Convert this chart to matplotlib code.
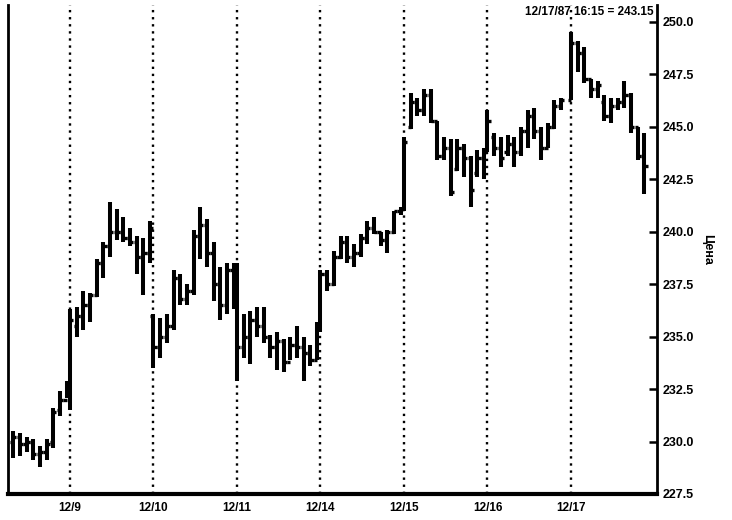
import matplotlib
matplotlib.use("Agg")
import matplotlib.pyplot as plt
import numpy as np

plt.rcParams['font.family'] = ['Liberation Sans', 'DejaVu Sans']
plt.rcParams['font.weight'] = 'bold'

# trading days (12/8 is only partly visible on the left)
day_labels = ["12/8", "12/9", "12/10", "12/11", "12/14", "12/15", "12/16", "12/17"]
bars_per_day = [9, 13, 13, 13, 13, 13, 12, 12]
first_slot = 4          # 12/8 starts part way through the session
slot_step = 1 / 12.5    # bar spacing as a fraction of one day

opens = [
    230.0, 230.2, 229.9, 230.0, 229.4, 229.5, 230.0, 231.5, 232.0,
    232.3, 235.5, 236.0, 236.5, 237.0, 238.5, 239.3, 240.0, 240.0, 239.7, 239.5, 238.8, 239.0,
    236.0, 234.5, 235.0, 235.5, 237.8, 236.8, 237.2, 239.8, 240.3, 239.0, 237.5, 236.5, 238.2,
    236.8, 234.5, 235.0, 235.8, 235.5, 235.0, 234.5, 234.8, 233.8, 234.6, 234.5, 234.2, 233.9,
    235.5, 238.0, 237.5, 238.8, 239.5, 238.8, 239.0, 239.7, 240.2, 240.0, 239.6, 240.0, 241.0,
    241.1, 245.0, 246.2, 245.8, 246.5, 245.3, 243.6, 244.0, 243.0, 244.0, 243.5, 242.8, 243.5,
    243.8, 244.5, 244.0, 243.8, 244.2, 243.8, 244.8, 245.5, 244.8, 244.0, 245.0, 246.0,
    246.3, 249.0, 248.5, 247.3, 246.8, 246.2, 245.5, 246.0, 246.2, 246.5, 245.0, 243.6,
]
highs = [
    230.5, 230.4, 230.2, 230.1, 229.8, 230.1, 231.6, 232.4, 232.9,
    236.3, 236.4, 237.2, 237.1, 238.7, 239.5, 241.4, 241.1, 240.7, 240.2, 239.8, 239.7, 240.5,
    236.1, 235.9, 236.1, 238.2, 238.0, 237.5, 240.1, 241.2, 240.6, 239.5, 238.3, 238.5, 238.5,
    238.5, 236.1, 236.2, 236.4, 236.4, 235.1, 235.2, 234.9, 235.0, 235.5, 235.0, 234.6, 235.7,
    238.2, 238.2, 239.1, 239.8, 239.8, 239.4, 239.9, 240.5, 240.7, 240.0, 240.1, 241.0, 241.2,
    244.5, 246.6, 246.4, 246.8, 246.8, 245.3, 244.5, 244.4, 244.4, 244.2, 243.6, 243.9, 244.0,
    245.8, 244.7, 244.5, 244.6, 244.5, 245.0, 245.8, 245.9, 245.0, 245.2, 246.3, 246.4,
    249.5, 249.1, 248.8, 247.3, 247.2, 246.5, 246.4, 246.4, 247.2, 246.6, 245.0, 244.7,
]
lows = [
    229.2, 229.3, 229.5, 229.1, 228.8, 229.1, 229.7, 231.2, 232.1,
    231.5, 235.0, 235.3, 235.7, 236.9, 237.8, 238.8, 239.6, 239.5, 239.3, 238.0, 237.0, 238.5,
    233.5, 234.0, 234.7, 235.3, 236.5, 236.5, 237.0, 238.7, 238.3, 236.7, 235.8, 236.1, 236.3,
    232.9, 234.0, 233.7, 235.0, 234.7, 234.0, 233.4, 233.3, 233.9, 234.0, 232.9, 233.6, 233.9,
    235.2, 237.2, 237.4, 238.7, 238.5, 238.3, 238.8, 239.4, 239.9, 239.3, 239.0, 239.9, 240.8,
    241.0, 244.9, 245.5, 245.5, 245.2, 243.4, 243.4, 241.7, 242.9, 242.6, 241.2, 242.6, 242.5,
    243.8, 243.6, 243.1, 243.6, 243.1, 243.6, 244.0, 244.4, 243.4, 244.0, 244.9, 245.8,
    246.3, 247.6, 247.1, 246.4, 246.4, 245.3, 245.2, 245.8, 245.9, 244.7, 243.4, 241.8,
]
closes = [
    230.2, 229.9, 230.0, 229.4, 229.5, 229.9, 231.4, 232.0, 232.3,
    235.8, 236.0, 236.5, 237.0, 238.5, 239.3, 240.0, 240.0, 239.7, 239.5, 238.8, 239.0, 240.2,
    234.5, 235.0, 235.5, 237.8, 236.8, 237.2, 239.8, 240.3, 239.0, 237.5, 236.5, 238.2, 236.8,
    234.5, 235.0, 235.8, 235.5, 235.0, 234.5, 234.8, 233.8, 234.6, 234.5, 234.2, 233.9, 235.5,
    238.0, 237.5, 238.8, 239.5, 238.8, 239.0, 239.7, 240.2, 240.0, 239.6, 240.0, 241.0, 241.1,
    244.3, 246.2, 245.8, 246.5, 245.3, 243.6, 244.0, 241.9, 244.0, 243.5, 242.0, 243.5, 243.8,
    245.3, 244.0, 243.5, 244.2, 243.8, 244.8, 245.5, 244.8, 244.0, 245.0, 246.0, 246.3,
    249.0, 248.5, 247.3, 246.8, 247.0, 245.5, 246.0, 246.2, 246.5, 245.0, 243.6, 243.15,
]
last_stamp = "12/17/87 16:15 = 243.15"
y_ticks = [227.5, 230.0, 232.5, 235.0, 237.5, 240.0, 242.5, 245.0, 247.5, 250.0]

# x position of every bar: day index + slot within the day
xs = []
for d, n in enumerate(bars_per_day):
    start = first_slot if d == 0 else 0
    for i in range(n):
        xs.append(d + (start + i) * slot_step)
xs = np.array(xs)

fig = plt.figure(figsize=(7.32, 5.2), dpi=100)
ax = fig.add_axes([8 / 732, 26 / 520, 649 / 732, 489 / 520])

ax.set_xlim(0.2575, 8.03)
ax.set_ylim(227.5, 250.81)

# day separators
for d in range(1, len(day_labels)):
    ax.axvline(d, color='black', lw=1.7, ls=(0, (1, 2.0)), zorder=1)

tick_w = 0.038
ax.vlines(xs, lows, highs, color='black', lw=2.9, zorder=3)
ax.hlines(opens, xs - tick_w, xs, color='black', lw=2.4, zorder=3)
ax.hlines(closes, xs, xs + tick_w, color='black', lw=2.4, zorder=3)

ax.set_xticks(range(1, len(day_labels)))
ax.set_xticklabels(day_labels[1:], fontsize=8.5, fontweight='bold')
ax.tick_params(axis='x', length=0, pad=6)

ax.yaxis.tick_right()
ax.yaxis.set_label_position('right')
ax.set_yticks(y_ticks)
ax.set_yticklabels([f"{v:.1f}" for v in y_ticks], fontsize=9, fontweight='bold')
ax.tick_params(axis='y', direction='in', length=6, width=1.8, pad=4)
ax.set_ylabel("Цена", rotation=270, fontsize=9, fontweight='bold',
              labelpad=14, family=['Liberation Sans', 'DejaVu Sans'])

ax.spines['top'].set_visible(False)
ax.spines['left'].set_linewidth(2)
ax.spines['right'].set_linewidth(2)
ax.spines['bottom'].set_linewidth(3)

ax.text(0.995, 0.998, last_stamp, transform=ax.transAxes, ha='right', va='top',
        fontsize=8.5, fontweight='bold')

fig.savefig("out.png", dpi=100)
